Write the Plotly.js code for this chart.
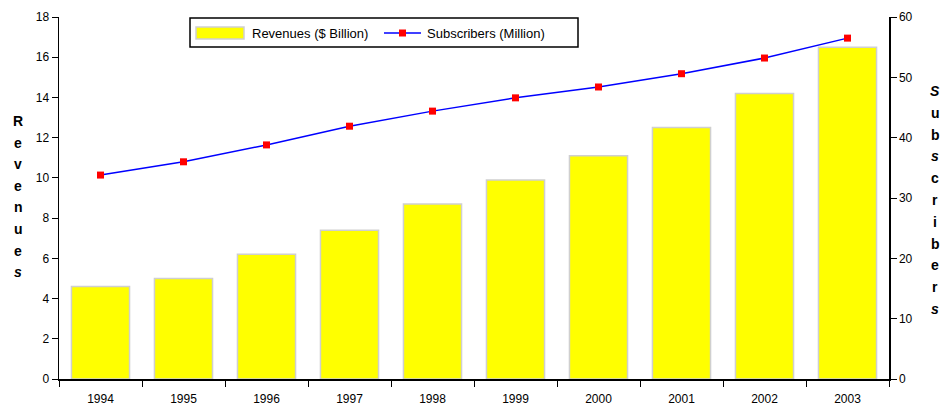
<!DOCTYPE html>
<html>
<head>
<meta charset="utf-8">
<script src="https://cdn.plot.ly/plotly-3.0.1.min.js"></script>
<style>html,body{margin:0;padding:0;background:#fff;}#chart{width:943px;height:410px;}</style>
</head>
<body>
<div id="chart"></div>
<script>
const years = ['1994','1995','1996','1997','1998','1999','2000','2001','2002','2003'];
const revenues = [4.6, 5.0, 6.2, 7.4, 8.7, 9.9, 11.1, 12.5, 14.2, 16.5];
const subscribers = [33.8, 36.0, 38.8, 41.9, 44.4, 46.6, 48.4, 50.6, 53.2, 56.5];
const revenueTicks = [0, 2, 4, 6, 8, 10, 12, 14, 16, 18];
const subscriberTicks = [0, 10, 20, 30, 40, 50, 60];
const leftTitle = ['R','e','v','e','n','u','e','<i>s</i>'];
const rightTitle = ['<i>S</i>','u','b','<i>s</i>','c','r','i','b','e','r','<i>s</i>'];

const fontFam = 'Liberation Sans, Arial, sans-serif';
const M = {l: 59, r: 54, t: 17, b: 31};
const W = 943, H = 410;
const pw = W - M.l - M.r, ph = H - M.t - M.b;
const px = x => (x - M.l) / pw;
const py = y => (H - M.b - y) / ph;

const traces = [
  {
    type: 'bar', x: years, y: revenues, name: 'Revenues ($ Billion)',
    marker: {color: '#ffff00', line: {color: '#cfcfcf', width: 1.5}},
    yaxis: 'y'
  },
  {
    type: 'scatter', mode: 'lines+markers', x: years, y: subscribers,
    name: 'Subscribers (Million)',
    line: {color: '#0000ff', width: 1.5},
    marker: {color: '#ff0000', symbol: 'square', size: 7},
    yaxis: 'y2'
  }
];

const annotations = [];
leftTitle.forEach((ch, i) => annotations.push({
  xref: 'paper', yref: 'paper', x: px(18), y: py(121 + i * 21.6),
  xanchor: 'center', yanchor: 'middle', showarrow: false,
  text: '<b>' + ch + '</b>', font: {family: fontFam, size: 14, color: '#000'}
}));
rightTitle.forEach((ch, i) => annotations.push({
  xref: 'paper', yref: 'paper', x: px(935), y: py(91 + i * 21.8),
  xanchor: 'center', yanchor: 'middle', showarrow: false,
  text: '<b>' + ch + '</b>', font: {family: fontFam, size: 14, color: '#000'}
}));
annotations.push({
  xref: 'paper', yref: 'paper', x: px(250), y: py(33), xanchor: 'left', yanchor: 'middle',
  showarrow: false, text: 'Revenues ($ Billion)', font: {family: fontFam, size: 13, color: '#000'}
});
annotations.push({
  xref: 'paper', yref: 'paper', x: px(425), y: py(33), xanchor: 'left', yanchor: 'middle',
  showarrow: false, text: 'Subscribers (Million)', font: {family: fontFam, size: 13, color: '#000'}
});

const shapes = [
  {type: 'rect', xref: 'paper', yref: 'paper', x0: px(190), x1: px(578), y0: py(18), y1: py(47),
   line: {color: '#000', width: 1.5}, fillcolor: '#fff', layer: 'above'},
  {type: 'rect', xref: 'paper', yref: 'paper', x0: px(196), x1: px(244), y0: py(27), y1: py(39),
   line: {color: '#cfcfcf', width: 1.5}, fillcolor: '#ffff00', layer: 'above'},
  {type: 'line', xref: 'paper', yref: 'paper', x0: px(384), x1: px(421), y0: py(33), y1: py(33),
   line: {color: '#0000ff', width: 1.5}, layer: 'above'},
  {type: 'rect', xref: 'paper', yref: 'paper', x0: px(399), x1: px(406), y0: py(29.5), y1: py(36.5),
   line: {color: '#ff0000', width: 0}, fillcolor: '#ff0000', layer: 'above'}
];

const layout = {
  width: W, height: H,
  margin: M,
  paper_bgcolor: '#fff', plot_bgcolor: '#fff',
  font: {family: fontFam, size: 12, color: '#000'},
  bargap: 0.3,
  showlegend: false,
  xaxis: {
    type: 'category', tickson: 'boundaries', ticks: 'outside', ticklen: 6,
    tickcolor: '#000', showline: true, linecolor: '#000', linewidth: 1.5,
    showgrid: false, tickfont: {size: 12}, range: [-0.5, 9.5], ticklabelstandoff: 8
  },
  yaxis: {
    range: [0, 18], tickvals: revenueTicks, ticks: 'outside', ticklen: 6,
    tickcolor: '#000', showline: true, linecolor: '#000', linewidth: 1.5,
    showgrid: false, zeroline: false, tickfont: {size: 12}
  },
  yaxis2: {
    range: [0, 60], tickvals: subscriberTicks, overlaying: 'y', side: 'right',
    ticks: 'outside', ticklen: 6, tickcolor: '#000', showline: true,
    linecolor: '#000', linewidth: 1.5, showgrid: false, zeroline: false,
    tickfont: {size: 12}
  },
  annotations: annotations,
  shapes: shapes
};

Plotly.newPlot('chart', traces, layout, {displayModeBar: false, staticPlot: true});
</script>
</body>
</html>
